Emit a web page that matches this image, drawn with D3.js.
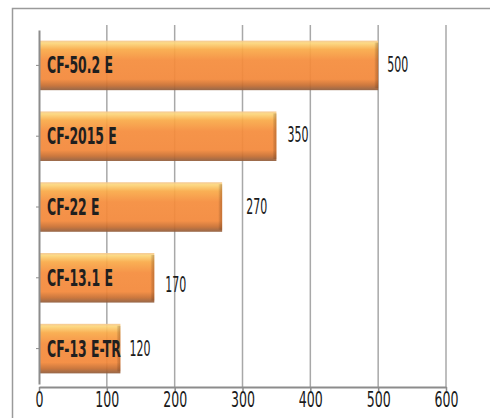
<!DOCTYPE html>
<html>
<head>
<meta charset="utf-8">
<script src="https://cdn.jsdelivr.net/npm/d3@7"></script>
<style>
  body { margin: 0; background: #fff; }
  text { font-family: "DejaVu Sans Condensed", "Liberation Sans Narrow", sans-serif; }
</style>
</head>
<body>
<div id="chart"></div>
<script>
var svgWidth = 490;
var svgHeight = 418;

// data
var models = ["CF-50.2 E", "CF-2015 E", "CF-22 E", "CF-13.1 E", "CF-13 E-TR"];
var values = [500, 350, 270, 170, 120];
var xTicks = [0, 100, 200, 300, 400, 500, 600];

var margin = { top: 25, right: 44, bottom: 31, left: 39 };
var width = svgWidth - margin.left - margin.right;
var height = svgHeight - margin.top - margin.bottom;

var svg = d3.select("#chart")
  .append("svg")
  .attr("width", svgWidth)
  .attr("height", svgHeight);

// squeeze text horizontally so it looks like the condensed face in the original
function squeeze(sel, sample, target) {
  var probe = svg.append("text")
    .attr("font-size", sel.attr("font-size"))
    .attr("font-weight", sel.attr("font-weight"))
    .text(sample);
  var w = probe.node().getComputedTextLength();
  probe.remove();
  return target / w;
}

// bar gradient
var defs = svg.append("defs");
var grad = defs.append("linearGradient")
  .attr("id", "barGrad")
  .attr("x1", 0).attr("y1", 0).attr("x2", 0).attr("y2", 1);
[[0, "#f5c690"], [0.05, "#fcd77c"], [0.18, "#f9aa48"], [0.4, "#f58c3c"],
 [0.78, "#f3883a"], [0.9, "#c86e30"], [1, "#8f5c3c"]].forEach(function(s) {
  grad.append("stop").attr("offset", s[0]).attr("stop-color", s[1]);
});
var endGrad = defs.append("linearGradient")
  .attr("id", "endGrad")
  .attr("x1", 0).attr("y1", 0).attr("x2", 1).attr("y2", 0);
endGrad.append("stop").attr("offset", 0).attr("stop-color", "#000").attr("stop-opacity", 0);
endGrad.append("stop").attr("offset", 1).attr("stop-color", "#7a3a10").attr("stop-opacity", 0.35);

// outer frame
svg.append("path")
  .attr("d", "M12.5," + svgHeight + "V8.5H" + svgWidth)
  .attr("fill", "none")
  .attr("stroke", "#9a9a9a")
  .attr("stroke-width", 1.5);

var chartGroup = svg.append("g")
  .attr("transform", `translate(${margin.left}, ${margin.top})`);

var xScale = d3.scaleLinear()
  .domain([0, 600])
  .range([0, width]);

var yScale = d3.scaleBand()
  .domain(models)
  .range([5, height - 3])
  .paddingInner(0.3)
  .paddingOuter(0.15);

// vertical gridlines
chartGroup.append("g")
  .selectAll("line")
  .data(xTicks.slice(1))
  .enter()
  .append("line")
  .attr("x1", d => xScale(d))
  .attr("x2", d => xScale(d))
  .attr("y1", 0)
  .attr("y2", height)
  .attr("stroke", "#a8a8a8")
  .attr("stroke-width", 1.5);

// bars
var bars = chartGroup.append("g")
  .selectAll("g")
  .data(models)
  .enter()
  .append("g");

bars.append("rect")
  .attr("x", 0)
  .attr("y", d => yScale(d))
  .attr("width", (d, i) => xScale(values[i]))
  .attr("height", yScale.bandwidth())
  .attr("fill", "url(#barGrad)")
  .attr("opacity", 0.93);

bars.append("rect")
  .attr("x", (d, i) => xScale(values[i]) - 4)
  .attr("y", d => yScale(d) + 2)
  .attr("width", 4)
  .attr("height", yScale.bandwidth() - 4)
  .attr("fill", "url(#endGrad)");

// category labels inside bars
var catLabels = bars.append("text")
  .attr("font-size", "23px")
  .attr("font-weight", "bold")
  .attr("fill", "#1f1f1f")
  .text(d => d);
var catSx = squeeze(catLabels, "CF-50.2 E", 66);
catLabels.attr("transform", d => `translate(8, ${yScale(d) + yScale.bandwidth() / 2 + 8}) scale(${catSx}, 1)`);

// value labels
var labelGap = [9, 11, 24, 11, 9];
var labelShift = [0, -1, 0, 7, 0];
var valLabels = bars.append("text")
  .attr("font-size", "21px")
  .attr("fill", "#1a1a1a")
  .text((d, i) => values[i]);
var valSx = squeeze(valLabels, "500", 21);
valLabels.attr("transform", (d, i) => `translate(${xScale(values[i]) + labelGap[i]}, ${yScale(d) + yScale.bandwidth() / 2 + 7 + labelShift[i]}) scale(${valSx}, 1)`);

// x axis
var bottomAxis = d3.axisBottom(xScale)
  .tickValues(xTicks)
  .tickSize(4)
  .tickSizeOuter(0);

var xAxis = chartGroup.append("g")
  .attr("transform", `translate(0, ${height})`)
  .call(bottomAxis);

xAxis.select(".domain").attr("stroke", "#8c8c8c").attr("stroke-width", 2);
xAxis.selectAll(".tick line").attr("stroke", "#8c8c8c").attr("stroke-width", 1.5);
var tickText = xAxis.selectAll(".tick text")
  .attr("font-size", "21px")
  .attr("font-family", null)
  .attr("fill", "#1a1a1a")
  .attr("y", 5);
var tickSx = squeeze(tickText, "100", 24);
tickText.attr("transform", `scale(${tickSx}, 1)`);

// y axis line and ticks
var leftAxis = d3.axisLeft(yScale)
  .tickSize(3)
  .tickSizeOuter(0)
  .tickFormat("");

var yAxis = chartGroup.append("g")
  .call(leftAxis);
yAxis.select(".domain").attr("stroke", "#8c8c8c").attr("stroke-width", 2);
yAxis.selectAll(".tick line").attr("stroke", "#8c8c8c");
</script>
</body>
</html>
